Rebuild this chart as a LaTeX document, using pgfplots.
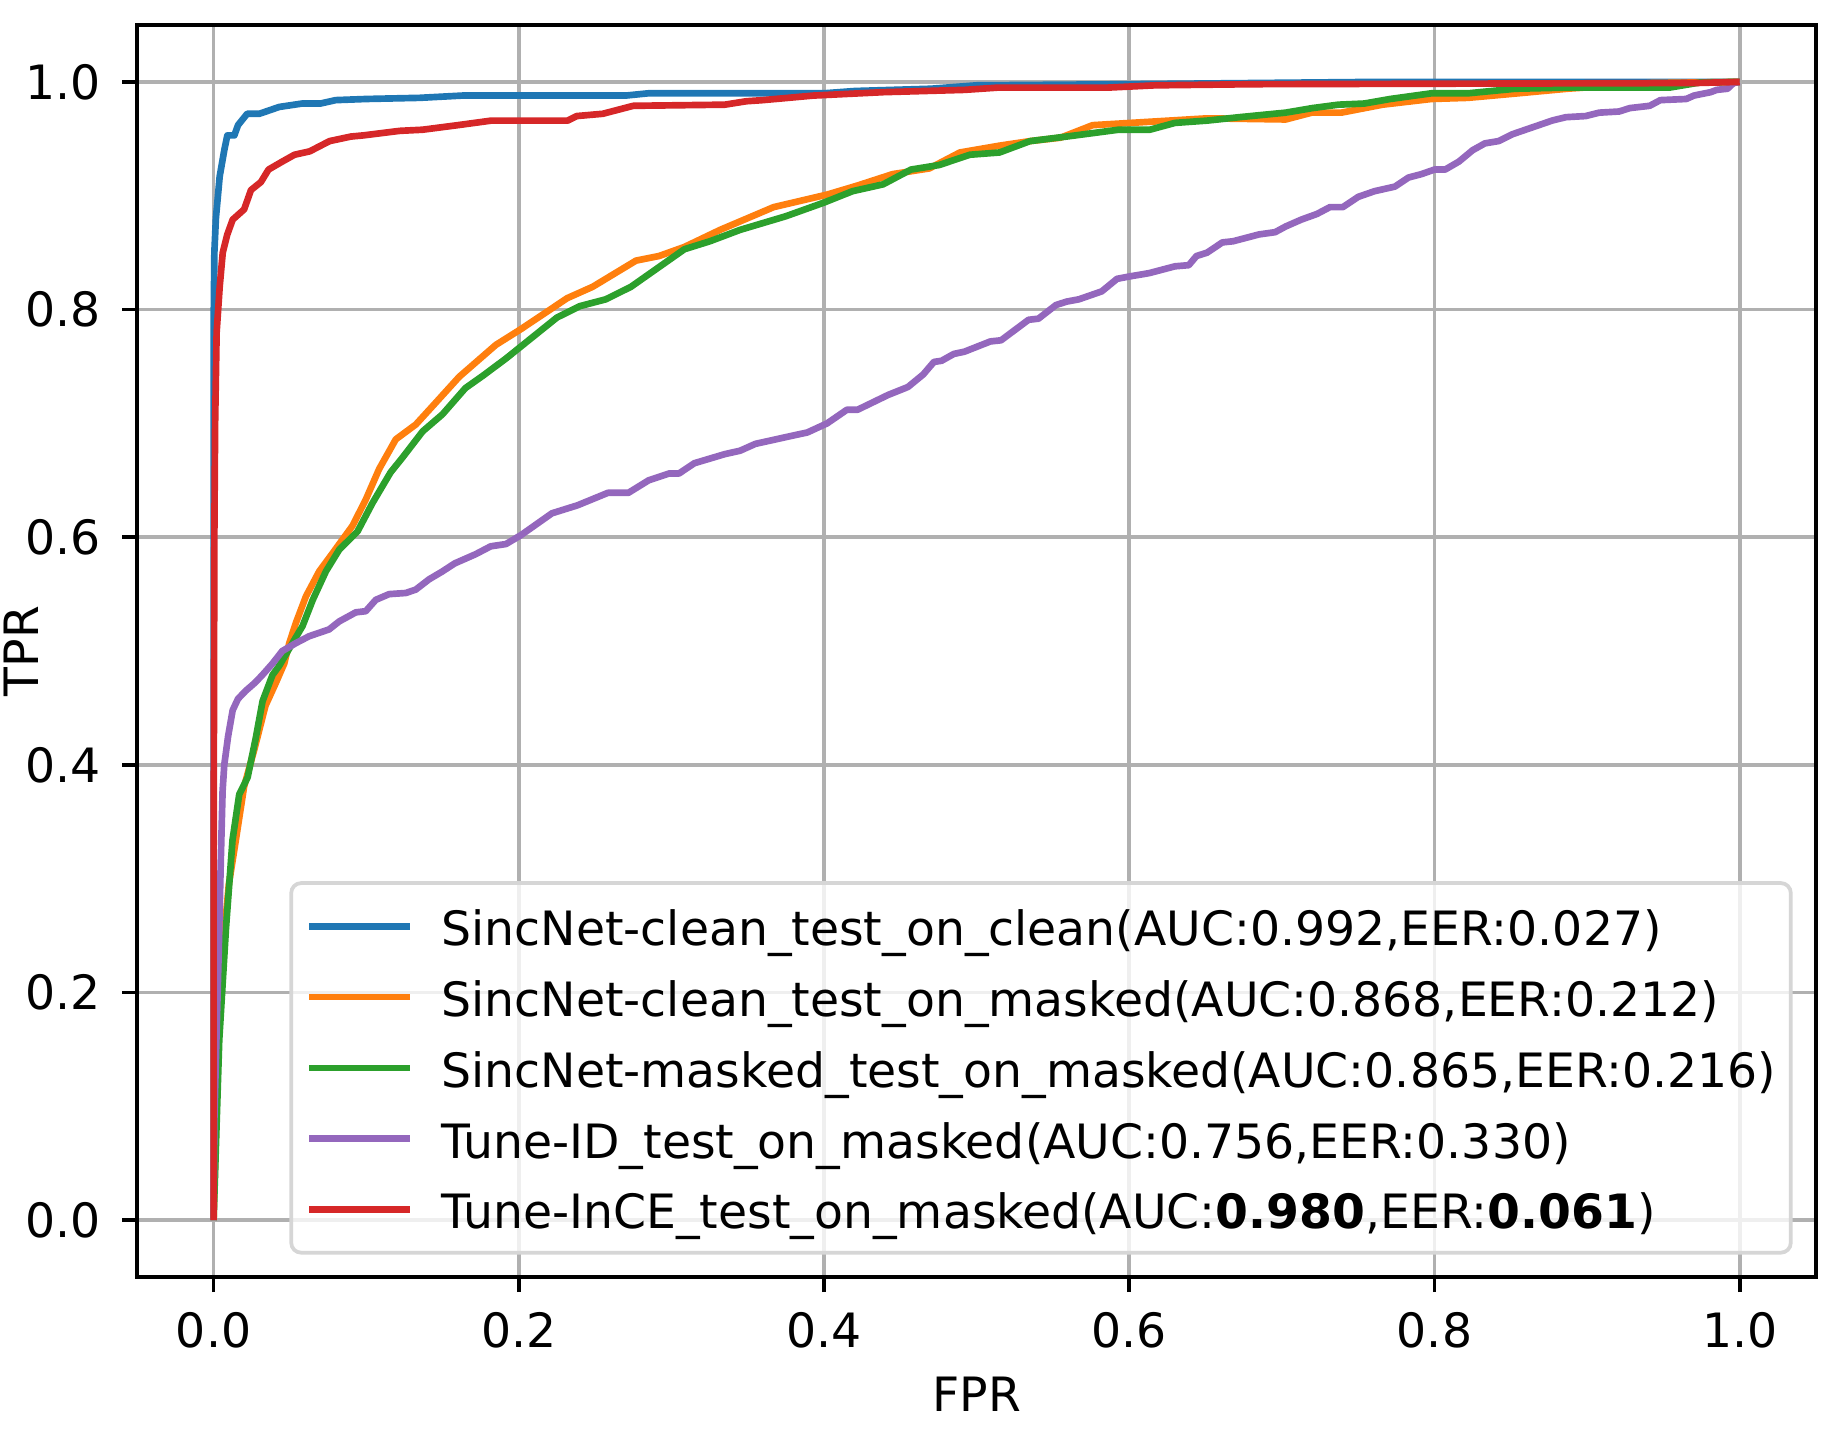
\documentclass[border=0pt]{standalone}
\usepackage{fontspec}
\setmainfont{DejaVu Sans}
\usepackage{pgfplots}
\pgfplotsset{compat=1.18}

\definecolor{c0}{HTML}{1F77B4}
\definecolor{c1}{HTML}{FF7F0E}
\definecolor{c2}{HTML}{2CA02C}
\definecolor{c3}{HTML}{9467BD}
\definecolor{c4}{HTML}{D62728}
\definecolor{gridgray}{HTML}{B0B0B0}
\definecolor{legframe}{HTML}{D6D6D6}

\newcommand\ls{\rule[-3pt]{0pt}{14pt}}

\begin{document}
\fontsize{11.35}{13.6}\selectfont
\begin{tikzpicture}
\begin{axis}[
    scale only axis,
    width=402.9pt, height=300.5pt,
    xmin=-0.05, xmax=1.05, ymin=-0.05, ymax=1.05,
    xtick={0,0.2,0.4,0.6,0.8,1},
    ytick={0,0.2,0.4,0.6,0.8,1},
    xticklabel={\pgfmathprintnumber[fixed,fixed zerofill,precision=1,assume math mode=true]{\tick}},
    yticklabel={\pgfmathprintnumber[fixed,fixed zerofill,precision=1,assume math mode=true]{\tick}},
    tick pos=left,
    tick align=outside,
    major tick length=3.6pt,
    tick style={black, line width=0.9pt},
    axis line style={black, line width=0.9pt},
    grid=major,
    major grid style={gridgray, line width=0.9pt},
    xticklabel style={inner sep=0pt, anchor=north, yshift=-4.7pt},
    yticklabel style={inner sep=0pt, anchor=east, xshift=-4.9pt},
    xlabel={FPR},
    ylabel={TPR},
    xlabel style={at={(rel axis cs:0.5,0)}, anchor=north, inner sep=0pt, yshift=-23.9pt},
    ylabel style={at={([xshift=-23.6pt]rel axis cs:0,0.5)}, anchor=south, rotate=0, inner sep=0pt},
    every axis plot/.append style={line width=1.6pt, line join=round},
    legend cell align=left,
    legend image code/.code={\draw[#1] (0pt,0pt) -- (24.3pt,0pt); \path (31pt,0pt);},
    legend style={at={(rel axis cs:1,0)}, anchor=south east, xshift=-5.6pt, yshift=5.4pt,
        draw=legframe, line width=0.9pt, rounded corners=2.4pt,
        fill=white, fill opacity=0.8, text opacity=1, draw opacity=1,
        inner xsep=3.5pt, inner ysep=4pt, row sep=4.3pt,
        nodes={inner sep=0pt}},
]
% SincNet-clean test on clean
\addplot[c0] coordinates {
(0,0) (0,0.5) (0,0.78) (0.0005,0.85) (0.0015,0.88) (0.004,0.917) (0.007,0.94)
(0.009,0.953) (0.0136,0.953) (0.016,0.962) (0.022,0.972) (0.03,0.972) (0.043,0.978)
(0.058,0.981) (0.07,0.981) (0.08,0.984) (0.1,0.985) (0.135,0.986) (0.163,0.988)
(0.207,0.988) (0.27,0.988) (0.285,0.990) (0.4,0.990) (0.42,0.992) (0.47,0.994)
(0.5,0.997) (0.6,0.998) (0.76,1.0) (1,1)
};
\addlegendentry{\ls SincNet-clean\_test\_on\_clean(AUC:0.992,EER:0.027)}
% SincNet-clean test on masked
\addplot[c1] coordinates {
(0,0) (0.003,0.158) (0.0059,0.236) (0.010,0.295) (0.0146,0.334) (0.020,0.381)
(0.0266,0.413) (0.034,0.452) (0.0408,0.472) (0.0463,0.489) (0.0496,0.507)
(0.054,0.525) (0.0605,0.548) (0.0692,0.570) (0.078,0.586) (0.091,0.610)
(0.0997,0.633) (0.1085,0.660) (0.1194,0.686) (0.1325,0.699) (0.1434,0.715)
(0.161,0.741) (0.185,0.769) (0.2016,0.783) (0.2317,0.810) (0.2484,0.820)
(0.2768,0.843) (0.2918,0.847) (0.3085,0.855) (0.3319,0.870) (0.367,0.890)
(0.402,0.901) (0.422,0.909) (0.445,0.919) (0.469,0.924) (0.489,0.938)
(0.515,0.944) (0.535,0.948) (0.555,0.951) (0.576,0.962) (0.6135,0.965)
(0.651,0.968) (0.7025,0.967) (0.7196,0.973) (0.739,0.973) (0.766,0.980)
(0.798,0.985) (0.822,0.986) (0.855,0.990) (0.887,0.994) (0.942,0.999) (1,1)
};
\addlegendentry{\ls SincNet-clean\_test\_on\_masked(AUC:0.868,EER:0.212)}
% SincNet-masked test on masked
\addplot[c2] coordinates {
(0,0) (0.0037,0.158) (0.0081,0.256) (0.0124,0.334) (0.0168,0.374) (0.0223,0.389)
(0.0277,0.424) (0.0321,0.456) (0.0386,0.479) (0.043,0.487) (0.0517,0.507)
(0.0583,0.522) (0.065,0.545) (0.0736,0.570) (0.0823,0.589) (0.0943,0.605)
(0.1041,0.630) (0.116,0.657) (0.1238,0.670) (0.137,0.693) (0.150,0.708)
(0.165,0.731) (0.1766,0.742) (0.1916,0.757) (0.225,0.793) (0.240,0.803)
(0.257,0.809) (0.2735,0.820) (0.3085,0.853) (0.3252,0.860) (0.345,0.870)
(0.375,0.882) (0.400,0.894) (0.4187,0.904) (0.4387,0.910) (0.457,0.923)
(0.4755,0.927) (0.4955,0.936) (0.515,0.938) (0.535,0.948) (0.559,0.952)
(0.593,0.958) (0.6135,0.958) (0.630,0.964) (0.651,0.966) (0.672,0.969)
(0.7025,0.973) (0.72,0.977) (0.737,0.980) (0.754,0.981) (0.771,0.985)
(0.798,0.990) (0.822,0.990) (0.853,0.994) (0.886,0.995) (0.954,0.995)
(0.974,0.9995) (1,1)
};
\addlegendentry{\ls SincNet-masked\_test\_on\_masked(AUC:0.865,EER:0.216)}
% Tune-ID test on masked
\addplot[c3] coordinates {
(0,0) (0.0005,0.088) (0.0016,0.146) (0.0033,0.233) (0.0048,0.32) (0.0059,0.377)
(0.007,0.400) (0.0095,0.425) (0.0125,0.448) (0.016,0.458) (0.021,0.465)
(0.027,0.472) (0.032,0.479) (0.0386,0.489) (0.045,0.500) (0.054,0.507)
(0.0626,0.513) (0.0757,0.519) (0.0823,0.526) (0.0932,0.534) (0.0997,0.535)
(0.1063,0.545) (0.115,0.550) (0.126,0.551) (0.1325,0.554) (0.1412,0.563)
(0.150,0.570) (0.158,0.577) (0.1716,0.585) (0.1816,0.592) (0.1916,0.594)
(0.2016,0.602) (0.2217,0.621) (0.2384,0.628) (0.2584,0.639) (0.2718,0.639)
(0.2851,0.650) (0.2985,0.656) (0.305,0.656) (0.315,0.665) (0.335,0.673)
(0.345,0.676) (0.355,0.682) (0.382,0.690) (0.389,0.692) (0.402,0.700)
(0.415,0.712) (0.422,0.712) (0.442,0.725) (0.455,0.732) (0.465,0.743)
(0.472,0.754) (0.477,0.755) (0.485,0.761) (0.492,0.763) (0.509,0.772)
(0.516,0.773) (0.526,0.783) (0.534,0.791) (0.5405,0.792) (0.552,0.804)
(0.559,0.807) (0.567,0.809) (0.582,0.816) (0.592,0.827) (0.5998,0.829)
(0.613,0.832) (0.630,0.838) (0.639,0.839) (0.644,0.847) (0.651,0.850)
(0.661,0.859) (0.668,0.860) (0.685,0.866) (0.6956,0.868) (0.7025,0.873)
(0.7127,0.879) (0.723,0.884) (0.7315,0.890) (0.740,0.890) (0.750,0.899)
(0.7607,0.904) (0.774,0.908) (0.783,0.916) (0.7915,0.919) (0.800,0.923)
(0.807,0.923) (0.816,0.930) (0.825,0.940) (0.833,0.946) (0.842,0.948)
(0.851,0.954) (0.864,0.960) (0.877,0.966) (0.886,0.969) (0.899,0.970)
(0.908,0.973) (0.921,0.974) (0.928,0.977) (0.941,0.979) (0.948,0.984)
(0.965,0.985) (0.970,0.988) (0.981,0.991) (0.985,0.993) (0.992,0.994)
(0.996,0.999) (1,1)
};
\addlegendentry{\ls Tune-ID\_test\_on\_masked(AUC:0.756,EER:0.330)}
% Tune-InCE test on masked
\addplot[c4] coordinates {
(0,0) (0,0.3) (0.0005,0.6) (0.001,0.70) (0.002,0.78) (0.004,0.82) (0.006,0.85)
(0.009,0.866) (0.0125,0.879) (0.02,0.888) (0.0245,0.905) (0.031,0.912)
(0.036,0.923) (0.045,0.930) (0.053,0.936) (0.063,0.939) (0.076,0.948)
(0.09,0.952) (0.098,0.953) (0.122,0.957) (0.137,0.958) (0.16,0.962)
(0.182,0.966) (0.232,0.966) (0.238,0.970) (0.255,0.972) (0.275,0.979)
(0.335,0.980) (0.349,0.983) (0.36,0.984) (0.393,0.988) (0.439,0.991)
(0.492,0.993) (0.514,0.995) (0.586,0.995) (0.617,0.997) (0.682,0.998)
(0.97,0.999) (1,1)
};
\addlegendentry{\ls Tune-InCE\_test\_on\_masked(AUC:\textbf{0.980},EER:\textbf{0.061})}
\end{axis}
\pgfresetboundingbox
\path[use as bounding box] ([xshift=-32.95pt,yshift=-36.72pt]current axis.south west)
    rectangle ([xshift=2.4pt,yshift=6pt]current axis.north east);
\end{tikzpicture}
\end{document}
